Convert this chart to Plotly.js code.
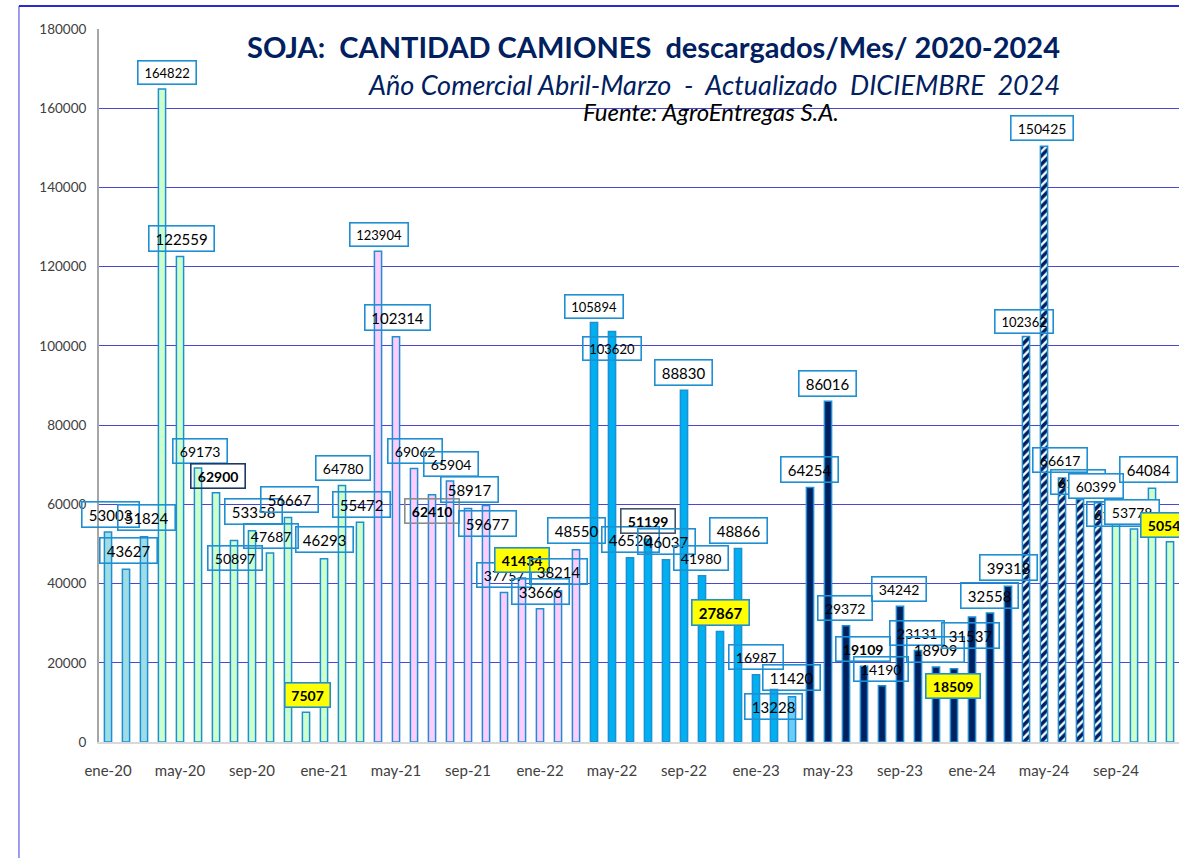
<!DOCTYPE html>
<html>
<head>
<meta charset="utf-8">
<script src="https://cdn.plot.ly/plotly-3.0.1.min.js"></script>
<style>
html,body{margin:0;padding:0;background:#ffffff;}
#chart{width:1179px;height:858px;}
</style>
</head>
<body>
<div id="chart"></div>
<script>
// ---- DATA ----
const months = [
  'ene-20','feb-20','mar-20','abr-20','may-20','jun-20','jul-20','ago-20','sep-20','oct-20','nov-20','dic-20',
  'ene-21','feb-21','mar-21','abr-21','may-21','jun-21','jul-21','ago-21','sep-21','oct-21','nov-21','dic-21',
  'ene-22','feb-22','mar-22','abr-22','may-22','jun-22','jul-22','ago-22','sep-22','oct-22','nov-22','dic-22',
  'ene-23','feb-23','mar-23','abr-23','may-23','jun-23','jul-23','ago-23','sep-23','oct-23','nov-23','dic-23',
  'ene-24','feb-24','mar-24','abr-24','may-24','jun-24','jul-24','ago-24','sep-24','oct-24','nov-24','dic-24'
];
const trucks = [
  53003, 43627, 51824, 164822, 122559, 69173, 62900, 50897, 53358, 47687, 56667, 7507,
  46293, 64780, 55472, 123904, 102314, 69062, 62410, 65904, 58917, 59677, 37757, 41434,
  33666, 38214, 48550, 105894, 103620, 46520, 51199, 46037, 88830, 41980, 27867, 48866,
  16987, 13228, 11420, 64254, 86016, 29372, 19109, 14190, 34242, 23131, 18909, 18509,
  31537, 32558, 39318, 102362, 150425, 66617, 61200, 60399, 61000, 53778, 64084, 50540
];
const tickLabels = ['ene-20','may-20','sep-20','ene-21','may-21','sep-21','ene-22','may-22',
                    'sep-22','ene-23','may-23','sep-23','ene-24','may-24','sep-24'];
const titleText = 'SOJA:\u00a0 CANTIDAD CAMIONES\u00a0 descargados/Mes/ 2020-2024';
const subtitleText = 'Año Comercial Abril-Marzo\u00a0 -\u00a0 Actualizado\u00a0 DICIEMBRE\u00a0 2024';
const sourceText = 'Fuente: AgroEntregas S.A.';

// ---- STYLE (label placement in pixels relative to bar top, sizes) ----
const labelDX = [2,2,2,5,1,2,2,1,1,1,1,1, 0,1,1,1,1,1,0,1,1,1,0,0, 0,0,0,0,0,0,0,0,-1,-1,0,0,
                 0,-1,-1,-1,-1,-1,-1,-1,-1,-1,-1,-1, -2,-1,0,-2,-2,-2,-2,-2,-2,-2,-4,-2];
const labelDY = [18,19,19,17,18,17,17,-18,19,17,18,17, 19,17,18,17,19,17,-16,17,19,-18,17,18,
                 17,19,19,16,-17,18,18,18,18,18,19,18, 18,-17,19,18,18,18,17,17,17,17,18,-17,
                 -18,18,19,15,18,18,18,17,-14,17,19,17];
const labelSize = [15,15,15,13,15,14,14,14,15,14,15,14, 15,14,15,13,15,14,14,14,15,15,14,14,
                   15,15,15,13,13,15,14,15,15,14,15,15, 14,15,15,15,15,14,14,14,14,14,15,14,
                   15,15,15,13,14,14,14,14,14,14,15,14];
const boldIdx = {6:'#1f3864', 18:'#8c8c8c', 30:'#44546a', 42:null, 54:null};
const yellowIdx = [11, 23, 34, 47, 59];
const opaqueIdx = [55, 57];
const hatchedFrom = 51, hatchedTo = 55;

const FONT = 'Lato, "Open Sans", sans-serif';
const BLUE_BORDER = '#1e8fd2';

function barColor(i){
  if (i < 3) return '#9fdde6';
  if (i < 15) return '#ccffcc';
  if (i < 27) return '#ffccff';
  if (i < 38) return '#00b0f0';
  if (i === 38) return '#6ccdf6';
  if (i < 51) return '#002060';
  return '#ccffcc';
}
const isHatched = i => i >= hatchedFrom && i <= hatchedTo;

const solidTrace = {
  type: 'bar',
  x: months,
  y: trucks.map((v,i)=> isHatched(i) ? null : v),
  width: 0.4,
  marker: {
    color: months.map((m,i)=>barColor(i)),
    line: {color: BLUE_BORDER, width: 1.5}
  },
  hoverinfo: 'x+y'
};
const hatchTrace = {
  type: 'bar',
  x: months,
  y: trucks.map((v,i)=> isHatched(i) ? v : null),
  width: 0.4,
  marker: {
    color: '#ffffff',
    line: {color: BLUE_BORDER, width: 1.5},
    pattern: {shape: '/', fgcolor: '#002060', bgcolor: '#ffffff', fgopacity: 1, size: 6, solidity: 0.6, fillmode: 'overlay'}
  },
  hoverinfo: 'x+y'
};

const annotations = trucks.map((v,i)=>{
  const txt = String(v);
  const isBold = Object.prototype.hasOwnProperty.call(boldIdx, i);
  const isYellow = yellowIdx.indexOf(i) >= 0;
  const isOpaque = opaqueIdx.indexOf(i) >= 0;
  let border = BLUE_BORDER;
  if (isBold && boldIdx[i]) border = boldIdx[i];
  const sz = labelSize[i];
  return {
    x: months[i], y: v, xref: 'x', yref: 'y',
    text: (isBold || isYellow) ? '<b>'+txt+'</b>' : txt,
    showarrow: false,
    xanchor: 'center', yanchor: 'middle',
    xshift: labelDX[i], yshift: labelDY[i],
    font: {family: FONT, size: sz, color: '#000000'},
    bgcolor: isYellow ? '#ffff00' : (isOpaque ? '#ffffff' : 'rgba(255,255,255,0)'),
    bordercolor: border, borderwidth: 1.6, borderpad: 3,
    width: Math.round(txt.length * sz * 0.58 + 6)
  };
});

annotations.push({
  xref: 'paper', yref: 'paper', x: 0.8917, y: 0.9215, xanchor: 'right', yanchor: 'middle',
  text: '<i>' + subtitleText + '</i>', showarrow: false,
  font: {family: FONT, size: 27, color: '#002060'}
});
annotations.push({
  xref: 'paper', yref: 'paper', x: 0.5667, y: 0.8836, xanchor: 'center', yanchor: 'middle',
  text: '<i>' + sourceText + '</i>', showarrow: false,
  font: {family: FONT, size: 24, color: '#000000'}
});

const layout = {
  width: 1179, height: 858,
  margin: {l: 99, r: 0, t: 29, b: 116},
  paper_bgcolor: '#ffffff', plot_bgcolor: '#ffffff',
  showlegend: false,
  barmode: 'overlay',
  title: {
    text: '<b>' + titleText + '</b>',
    x: 0.8898, xref: 'paper', xanchor: 'right',
    y: 1 - 48/858, yref: 'container', yanchor: 'middle',
    font: {family: FONT, size: 29, color: '#002060'}
  },
  xaxis: {
    type: 'category', range: [-0.5, 59.5],
    tickmode: 'array', tickvals: tickLabels, ticktext: tickLabels,
    showgrid: false, zeroline: false,
    showline: true, linecolor: '#d9d9d9', linewidth: 2,
    ticks: '', ticklabelstandoff: 14,
    tickfont: {family: FONT, size: 15, color: '#404040'}
  },
  yaxis: {
    range: [0, 180000], dtick: 20000, tickformat: 'd',
    showgrid: true, gridcolor: '#4848d2', gridwidth: 1,
    zeroline: false,
    showline: true, linecolor: '#a6a6a6', linewidth: 2,
    ticks: '', ticklabelstandoff: 8,
    tickfont: {family: FONT, size: 13.5, color: '#404040'}
  },
  shapes: [
    {type: 'line', xref: 'paper', yref: 'paper', x0: -0.0741, x1: -0.0741, y0: -0.2, y1: 1.0323,
     line: {color: '#3c3cdc', width: 1}},
    {type: 'line', xref: 'paper', yref: 'paper', x0: -0.0741, x1: 1.05, y0: 1.0323, y1: 1.0323,
     line: {color: '#2a2ad0', width: 2}}
  ],
  annotations: annotations
};

Plotly.newPlot('chart', [solidTrace, hatchTrace], layout, {displayModeBar: false, staticPlot: true});
</script>
</body>
</html>
